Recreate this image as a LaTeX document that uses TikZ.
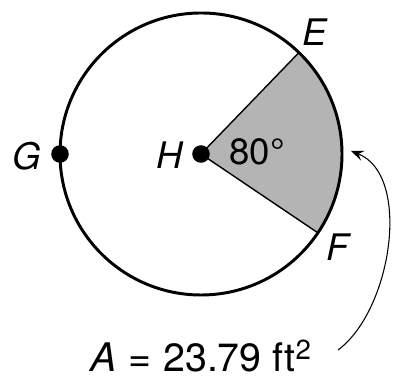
\documentclass[tikz,border=0pt]{standalone}
\usepackage{fontspec}
\setmainfont{TeX Gyre Heros}
\usepackage{xcolor}
\usetikzlibrary{arrows.meta,positioning,calc}
\definecolor{sectorGray}{HTML}{B4B4B4}
\tikzset{
  rim line/.style={draw=black,line width=2.1pt},
  radius line/.style={draw=black,line width=1pt},
  point dot/.style={circle,fill=black,inner sep=0pt,minimum size=12.5pt},
  point label/.style={font=\fontsize{26}{30}\selectfont\itshape,inner sep=0pt},
  value label/.style={font=\fontsize{26}{30}\selectfont,inner sep=0pt},
  call arrow/.style={-{Stealth[length=3.2mm,width=2.6mm,inset=1.2mm]},draw=black,line width=0.75pt}
}

\begin{document}
\begin{tikzpicture}[x=0.025cm,y=0.025cm]
    \useasboundingbox (0,0) rectangle (408,380);
    \coordinate (H) at (201,226);
    \coordinate (E) at ($(H)+(46:141)$);
    \coordinate (F) at ($(H)+(-34:141)$);
    % shaded sector
    \fill[sectorGray] (H) -- (E) arc[start angle=46,end angle=-34,radius=141] -- cycle;
    \draw[radius line] (E) -- (H) -- (F);
    \draw[rim line] (H) circle[radius=141];
    \node[point dot] (hdot) at (H) {};
    \node[point dot] (gdot) at ($(H)+(180:141)$) {};
    % labels
    \node[point label] (elab) at (315,348) {E};
    \node[point label] (flab) at (338,133) {F};
    \node[point label] (glab) at (27,224) {G};
    \node[point label] (hlab) at (170,225) {H};
    \node[value label] (angle) at (257,228) {80°};
    \node[value label,font=\fontsize{28}{32}\selectfont] (area) at (201,24)
      {\textit{A}\hspace{0.3em}=\hspace{0.3em}23.79 ft\textsuperscript{2}};
    \coordinate (tail) at (338,30);
    \coordinate (rim) at (351,229);
    \draw[call arrow] (tail) .. controls (392,70) and (412,205) .. (rim);
  \end{tikzpicture}
\end{document}
